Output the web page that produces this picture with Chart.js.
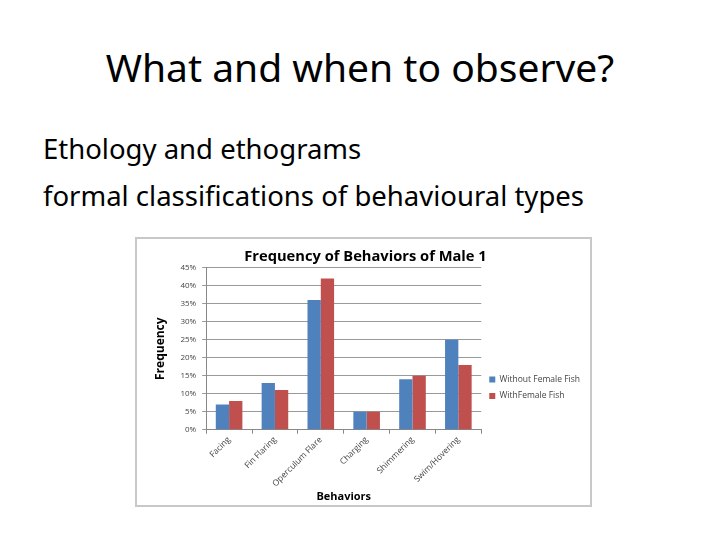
<!DOCTYPE html>
<html>
<head>
<meta charset="utf-8">
<script src="https://cdn.jsdelivr.net/npm/chart.js@4"></script>
<style>
  body { margin:0; width:720px; height:540px; background:#fff; position:relative; font-family:"Noto Sans", sans-serif; overflow:hidden; }
  #title { position:absolute; top:40px; left:0; width:720px; text-align:center; font-size:39px; color:#000; }
  .line { position:absolute; left:43px; font-size:27.5px; color:#000; }
  #box { position:absolute; left:135px; top:237px; width:453px; height:266px; border:2px solid #c8c8c8; }
</style>
</head>
<body>
<div id="title">What and when to observe?</div>
<div class="line" style="top:130px">Ethology and ethograms</div>
<div class="line" style="top:177px">formal classifications of behavioural types</div>
<div id="box"><canvas id="myChart" width="453" height="266"></canvas></div>
<script>
const behaviors = ['Facing', 'Fin Flaring', 'Operculum Flare', 'Charging', 'Shimmering', 'Swim/Hovering'];
const withoutFemale = [7, 13, 36, 5, 14, 25];
const withFemale = [8, 11, 42, 5, 15, 18];
const yTicks = [0, 5, 10, 15, 20, 25, 30, 35, 40, 45];

const ctx = document.getElementById('myChart').getContext('2d');
const myChart = new Chart(ctx, {
    type: 'bar',
    data: {
        labels: behaviors,
        datasets: [{
            label: 'Without Female Fish',
            data: withoutFemale,
            backgroundColor: '#4F81BD',
            barPercentage: 1.0,
            categoryPercentage: 0.58
        }, {
            label: 'WithFemale Fish',
            data: withFemale,
            backgroundColor: '#C0504D',
            barPercentage: 1.0,
            categoryPercentage: 0.58
        }]
    },
    options: {
        responsive: false,
        animation: false,
        layout: { padding: { left: 4, right: 0, top: 2, bottom: 2 } },
        plugins: {
            title: {
                display: true,
                text: 'Frequency of Behaviors of Male 1',
                color: '#000',
                font: { family: 'Open Sans', size: 14.7, weight: 'bold' },
                padding: { top: 7, bottom: 2 }
            },
            legend: {
                position: 'right',
                title: { display: true, text: ' ', padding: { top: 11, bottom: 11 }, font: { size: 8 } },
                labels: {
                    boxWidth: 6,
                    boxHeight: 6,
                    color: '#444',
                    font: { family: 'Open Sans', size: 8.5 },
                    padding: 8
                }
            },
            tooltip: { enabled: false }
        },
        scales: {
            x: {
                grid: { offset: true, drawOnChartArea: false, tickLength: 4, color: '#888' },
                border: { color: '#888' },
                ticks: {
                    minRotation: 45, maxRotation: 45,
                    color: '#444',
                    font: { family: 'Open Sans', size: 8.5 },
                    padding: 1
                },
                title: {
                    display: true, text: 'Behaviors', color: '#000',
                    font: { family: 'Open Sans', size: 11, weight: 'bold' },
                    padding: { top: 0, bottom: 0 }
                }
            },
            y: {
                min: 0, max: 45,
                afterBuildTicks: axis => { axis.ticks = yTicks.map(v => ({ value: v })); },
                grid: { color: '#999', tickLength: 4 },
                border: { color: '#888' },
                ticks: {
                    color: '#444',
                    padding: 6,
                    font: { family: 'Open Sans', size: 8 },
                    callback: v => v + '%'
                },
                title: {
                    display: true, text: 'Frequency', color: '#000',
                    font: { family: 'Open Sans', size: 12, weight: 'bold' },
                    padding: { top: 12, bottom: 7 }
                }
            }
        }
    }
});
</script>
</body>
</html>
